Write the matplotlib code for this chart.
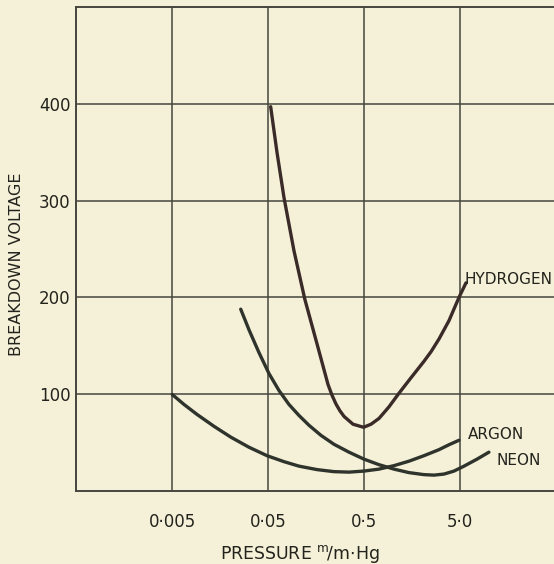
import matplotlib
matplotlib.use('Agg')
import matplotlib.pyplot as plt
from matplotlib.ticker import NullLocator

# Breakdown voltage vs pressure
h2_p = [0.0533, 0.062, 0.0734, 0.0933, 0.121, 0.162, 0.211, 0.232, 0.255, 0.28,
        0.31, 0.384, 0.488, 0.5, 0.592, 0.717, 0.911, 1.157, 1.544, 2.108, 2.5,
        3.02, 3.84, 4.88, 5.77]
h2_v = [397, 350, 303, 248, 198, 152, 110, 99, 90, 83,
        77, 69, 66, 66, 69, 75, 87, 101, 117, 134, 144,
        157, 176, 200, 215]

ar_p = [0.00503, 0.00667, 0.00911, 0.0137, 0.0206, 0.0317, 0.0488, 0.0734, 0.105,
        0.162, 0.243, 0.349, 0.5, 0.716, 1.027, 1.47, 2.11, 3.02, 3.84, 4.88]
ar_v = [99.7, 89.4, 79.1, 66.8, 55.5, 45.2, 36.5, 30.3, 25.7,
        22.1, 20.0, 19.5, 20.6, 22.6, 26.2, 30.8, 36.5, 42.7, 47.8, 52.4]

ne_p = [0.026, 0.0317, 0.0403, 0.0512, 0.0651, 0.0827, 0.105, 0.134, 0.178, 0.243,
        0.349, 0.5, 0.716, 1.027, 1.47, 2.11, 2.68, 3.41, 4.33, 5.51, 7.52, 10.0]
ne_v = [187.8, 166.5, 142.9, 121.3, 103.8, 89.4, 78.1, 67.8, 57.5, 48.3,
        40.1, 32.9, 27.2, 22.6, 19.0, 16.9, 16.4, 17.5, 20.6, 25.7, 32.9, 40.1]

xtick_vals = [0.005, 0.05, 0.5, 5.0]
xtick_text = ['0·005', '0·05', '0·5', '5·0']
ytick_vals = [100, 200, 300, 400]

labels = [('HYDROGEN', 5.6, 218), ('ARGON', 6.0, 58), ('NEON', 12.1, 32)]

bg = '#f5f1d8'
ink = '#23231d'
grid_c = '#46463e'

plt.rcParams['font.family'] = ['DejaVu Sans']
plt.rcParams['mathtext.fontset'] = 'dejavusans'

fig = plt.figure(figsize=(5.54, 5.64), dpi=100, facecolor=bg)
ax = fig.add_axes([76 / 554, 73 / 564, 480 / 554, 484 / 564], facecolor=bg)

ax.set_xscale('log')
ax.set_xlim(0.0005, 50)
ax.set_ylim(0, 500)

for xv in xtick_vals:
    ax.axvline(xv, color=grid_c, lw=1.1, zorder=1)
for yv in ytick_vals:
    ax.axhline(yv, color=grid_c, lw=1.1, zorder=1)

ax.plot(h2_p, h2_v, color='#3a2b28', lw=2.4, solid_capstyle='round',
        solid_joinstyle='round', zorder=3)
ax.plot(ar_p, ar_v, color='#2e332c', lw=2.4, solid_capstyle='round',
        solid_joinstyle='round', zorder=3)
ax.plot(ne_p, ne_v, color='#2e332c', lw=2.4, solid_capstyle='round',
        solid_joinstyle='round', zorder=3)

for txt, xv, yv in labels:
    ax.text(xv, yv, txt, fontsize=11, color=ink, ha='left', va='center', zorder=4)

ax.set_xticks(xtick_vals)
ax.set_xticklabels(xtick_text)
ax.xaxis.set_minor_locator(NullLocator())
ax.set_yticks(ytick_vals)
ax.tick_params(axis='x', length=0, pad=16, labelsize=12, labelcolor=ink)
ax.tick_params(axis='y', length=0, pad=4, labelsize=12, labelcolor=ink)

for s in ax.spines.values():
    s.set_color(grid_c)
    s.set_linewidth(1.4)

ax.text(-0.123, 0.469, 'BREAKDOWN VOLTAGE', transform=ax.transAxes, rotation=90,
        ha='center', va='center', fontsize=11.5, color=ink)
ax.text(0.467, -0.130, r'PRESSURE $^{\mathrm{m}}\!/\mathrm{m}\!\cdot\!\mathrm{Hg}$',
        transform=ax.transAxes, ha='center', va='center', fontsize=12.5, color=ink)

fig.savefig('out.png', dpi=100, facecolor=bg)
